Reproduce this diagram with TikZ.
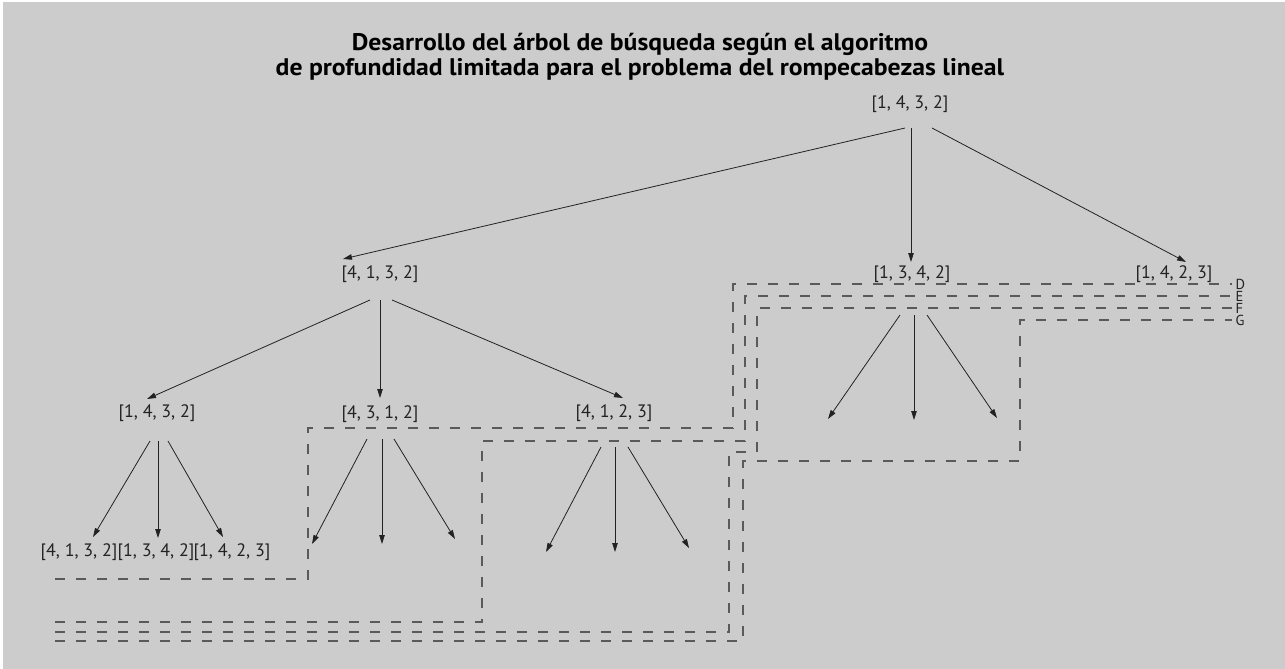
\documentclass[tikz,border=0pt]{standalone}
\usepackage{fontspec}
\setmainfont{PT Sans}
\newfontfamily\titlefont[FakeStretch=1.07]{PT Sans Bold}
\usetikzlibrary{arrows.meta,calc}
\definecolor{bg}{HTML}{CCCCCC}
\definecolor{ink}{HTML}{222222}
\definecolor{dashc}{HTML}{5A5A5A}
\begin{document}
\begin{tikzpicture}[x=1pt,y=-1pt,
  lbl/.style={font=\fontsize{18}{20}\selectfont, inner sep=0pt, text=ink},
  arr/.style={-{Triangle[length=9pt,width=5.5pt]}, line width=0.8pt, ink},
  frontier/.style={dash pattern=on 10pt off 11pt, line width=1.2pt, dashc},
  tag/.style={font=\fontsize{14.5}{14.5}\selectfont, inner sep=0pt, anchor=west, xshift=3pt, text=ink, text height=10pt, text depth=0pt},
  ttl/.style={font=\titlefont\fontsize{24}{25}\selectfont, align=center, text=black}]
\useasboundingbox (0,0) rectangle (1285,669);
\fill[white] (0,0) rectangle (1285,669);
\fill[bg] (3,2) rectangle (1285,669);

\node[ttl] (title) at (640,57) {Desarrollo del árbol de búsqueda según el algoritmo\\de profundidad limitada para el problema del rompecabezas lineal};

% tree nodes
\node[lbl] (root) at (910,104) {[1, 4, 3, 2]};
\node[lbl] (n1) at (380,274) {[4, 1, 3, 2]};
\node[lbl] (n2) at (912,274) {[1, 3, 4, 2]};
\node[lbl] (n3) at (1174,274) {[1, 4, 2, 3]};
\node[lbl] (n11) at (157,413) {[1, 4, 3, 2]};
\node[lbl] (n12) at (380,414) {[4, 3, 1, 2]};
\node[lbl] (n13) at (614,413) {[4, 1, 2, 3]};
\node[lbl] (n111) at (79,552) {[4, 1, 3, 2]};
\node[lbl] (n112) at (156,552) {[1, 3, 4, 2]};
\node[lbl] (n113) at (232,552) {[1, 4, 2, 3]};

% free ends of unexpanded children
\coordinate (e121) at (312,544);
\coordinate (e122) at (382,544);
\coordinate (e123) at (455,539);
\coordinate (e131) at (546,552);
\coordinate (e132) at (615,552);
\coordinate (e133) at (689,548);
\coordinate (e21) at (828,419);
\coordinate (e22) at (914,420);
\coordinate (e23) at (997,418);

% arrows
\draw[arr] ($(root)+(-5,24)$) -- ($(n1)+(-37,-15)$);
\draw[arr] ($(root)+(1,24)$) -- ($(n2)+(-1,-12)$);
\draw[arr] ($(root)+(22,24)$) -- ($(n3)+(12,-12)$);

\draw[arr] ($(n1)+(-10,26)$) -- ($(n11)+(-10,-14)$);
\draw[arr] ($(n1)+(0,26)$) -- ($(n12)+(0,-16)$);
\draw[arr] ($(n1)+(12,26)$) -- ($(n13)+(9,-15)$);

\draw[arr] ($(n11)+(-7,28)$) -- ($(n111)+(14,-15)$);
\draw[arr] ($(n11)+(1,28)$) -- ($(n112)+(2,-14)$);
\draw[arr] ($(n11)+(11,28)$) -- ($(n113)+(-9,-15)$);

\draw[arr] ($(n12)+(-13,25)$) -- (e121);
\draw[arr] ($(n12)+(2,25)$) -- (e122);
\draw[arr] ($(n12)+(14,25)$) -- (e123);

\draw[arr] ($(n13)+(-13,34)$) -- (e131);
\draw[arr] ($(n13)+(1,34)$) -- (e132);
\draw[arr] ($(n13)+(14,34)$) -- (e133);

\draw[arr] ($(n2)+(-12,41)$) -- (e21);
\draw[arr] ($(n2)+(2,41)$) -- (e22);
\draw[arr] ($(n2)+(15,41)$) -- (e23);

% depth-limit frontiers
\draw[frontier] (55,579) -- (308,579) -- (308,428) -- (733,428) -- (733,284) -- (1232,284) node[tag] {D};
\draw[frontier] (55,622) -- (482,622) -- (482,441) -- (745,441) -- (745,296) -- (1232,296) node[tag] {E};
\draw[frontier] (55,632) -- (729,632) -- (729,452) -- (757,452) -- (757,308) -- (1232,308) node[tag] {F};
\draw[frontier] (55,641) -- (743,641) -- (743,461) -- (1020,461) -- (1020,320) -- (1232,320) node[tag] {G};
\end{tikzpicture}
\end{document}
